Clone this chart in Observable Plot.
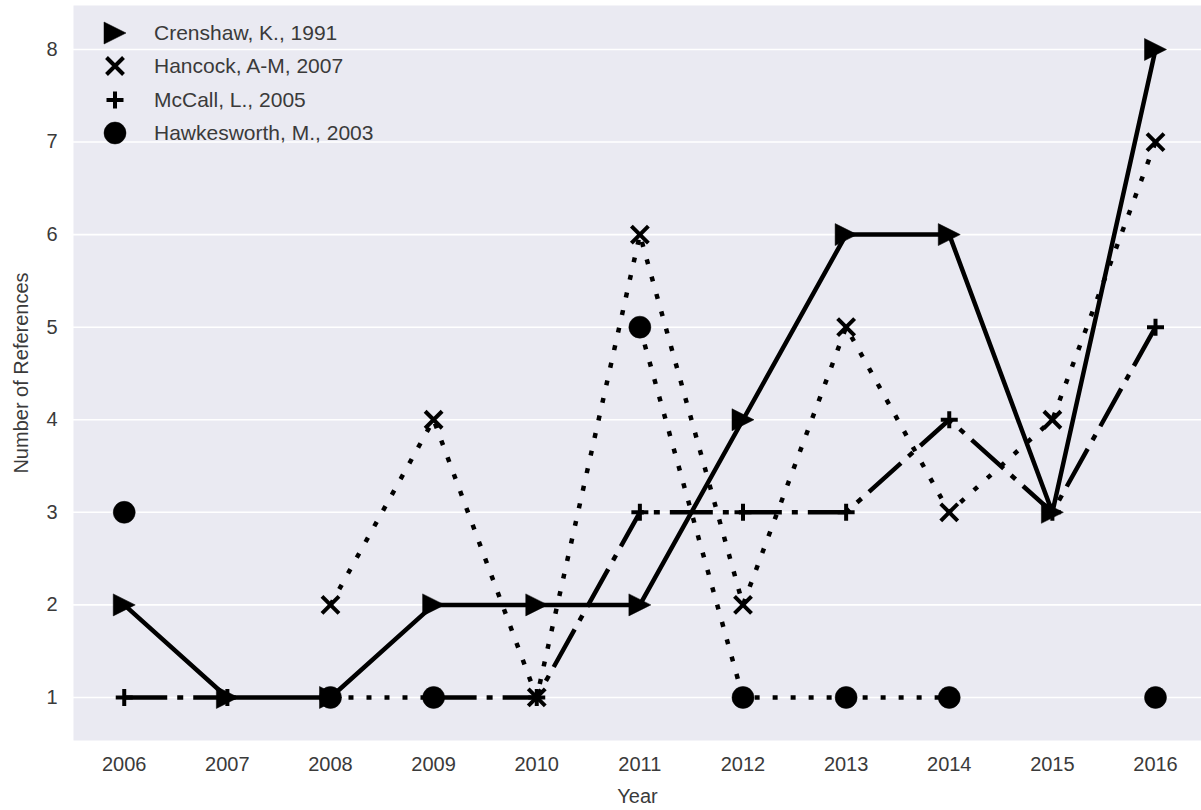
<!DOCTYPE html>
<html>
<head>
<meta charset="utf-8">
<script src="https://cdn.jsdelivr.net/npm/d3@7"></script>
<script src="https://cdn.jsdelivr.net/npm/@observablehq/plot@0.6"></script>
<style>
  html, body { margin: 0; padding: 0; background: #ffffff; }
  #wrap { position: relative; width: 1201px; height: 810px; font-family: "Liberation Sans", Arial, sans-serif; }
  #legend { position: absolute; left: 0; top: 0; }
  .item { position: absolute; left: 100px; height: 30px; display: flex; align-items: center; font-size: 21px; color: #3a3a3a; white-space: nowrap; }
  .item svg { width: 30px; height: 30px; margin-right: 24px; overflow: visible; }
</style>
</head>
<body>
<div id="wrap"><div id="legend"></div></div>
<script>
// ---- data ----
const years = [2006, 2007, 2008, 2009, 2010, 2011, 2012, 2013, 2014, 2015, 2016];
const crenshaw    = [2, 1, 1, 2, 2, 2, 4, 6, 6, 3, 8];
const hancock     = [null, null, 2, 4, 1, 6, 2, 5, 3, 4, 7];
const mccall      = [1, 1, null, 1, 1, 3, 3, 3, 4, 3, 5];
const hawkesworth = [3, null, 1, 1, null, 5, 1, 1, 1, null, 1];
const seriesNames = ["Crenshaw, K., 1991", "Hancock, A-M, 2007", "McCall, L., 2005", "Hawkesworth, M., 2003"];
const yTicks = [1, 2, 3, 4, 5, 6, 7, 8];
const xLabel = "Year";
const yLabel = "Number of References";

// ---- custom symbols ----
const triRight = { draw(ctx, size) { const r = Math.sqrt(size / Math.PI); ctx.moveTo(r, 0); ctx.lineTo(-r, -r); ctx.lineTo(-r, r); ctx.closePath(); } };
const timesSym = { draw(ctx, size) { const r = Math.sqrt(size / Math.PI); ctx.moveTo(-r, -r); ctx.lineTo(r, r); ctx.moveTo(-r, r); ctx.lineTo(r, -r); } };
const plusSym  = { draw(ctx, size) { const r = Math.sqrt(size / Math.PI); ctx.moveTo(-r, 0); ctx.lineTo(r, 0); ctx.moveTo(0, -r); ctx.lineTo(0, r); } };
const circSym  = { draw(ctx, size) { const r = Math.sqrt(size / Math.PI); ctx.moveTo(r, 0); ctx.arc(0, 0, r, 0, 2 * Math.PI); } };

const seriesValues = [crenshaw, hancock, mccall, hawkesworth];
const styles = [
  { dash: null, symbol: triRight, r: 11, filled: true },
  { dash: "5,13", symbol: timesSym, r: 8.5, filled: false },
  { dash: "43,10,6,10", symbol: plusSym, r: 8.5, filled: false },
  { dash: "5,13", symbol: circSym, r: 11, filled: true }
];

const marks = [
  Plot.frame({ fill: "#eaeaf2", stroke: null }),
  Plot.gridY(yTicks, { stroke: "#ffffff", strokeOpacity: 1, strokeWidth: 1.6 })
];

seriesValues.forEach((vals, k) => {
  const rows = years.map((year, i) => ({ year, value: vals[i], series: seriesNames[k] }));
  const st = styles[k];
  marks.push(Plot.line(rows, {
    x: "year", y: "value", stroke: "black", strokeWidth: 4.5,
    strokeDasharray: st.dash || undefined, strokeLinecap: "butt", strokeLinejoin: "round", curve: "linear"
  }));
  marks.push(Plot.dot(rows.filter(d => d.value != null), {
    x: "year", y: "value", symbol: st.symbol, r: st.r,
    fill: st.filled ? "black" : "none", stroke: "black",
    strokeWidth: st.filled ? 0.5 : 4
  }));
});

marks.push(Plot.axisX({
  ticks: years, tickFormat: d => String(d), tickSize: 0, tickPadding: 16, fontSize: 20,
  label: xLabel, labelAnchor: "center", labelArrow: "none", labelOffset: 62
}));
marks.push(Plot.axisY({
  ticks: yTicks, tickSize: 0, tickPadding: 16, fontSize: 20,
  label: yLabel, labelAnchor: "center", labelArrow: "none", labelOffset: 60
}));

const chart = Plot.plot({
  width: 1201, height: 810,
  marginLeft: 73, marginTop: 5, marginRight: 0, marginBottom: 70,
  x: { domain: [2005.508, 2016.446] },
  y: { domain: [0.535, 8.475] },
  style: { fontFamily: "'Liberation Sans', Arial, sans-serif", color: "#3a3a3a", background: "white", overflow: "visible" },
  marks
});
document.getElementById("wrap").prepend(chart);

// ---- legend ----
const legend = d3.select("#legend");
const rowsY = [33, 66, 100, 133];
seriesNames.forEach((name, k) => {
  const st = styles[k];
  const item = legend.append("div").attr("class", "item").style("top", (rowsY[k] - 15) + "px");
  const svg = item.append("svg").attr("viewBox", "-15 -15 30 30");
  svg.append("path")
    .attr("d", d3.symbol(st.symbol, Math.PI * st.r * st.r)())
    .attr("fill", st.filled ? "black" : "none")
    .attr("stroke", "black")
    .attr("stroke-width", st.filled ? 0.5 : 4);
  item.append("span").text(name);
});
</script>
</body>
</html>
